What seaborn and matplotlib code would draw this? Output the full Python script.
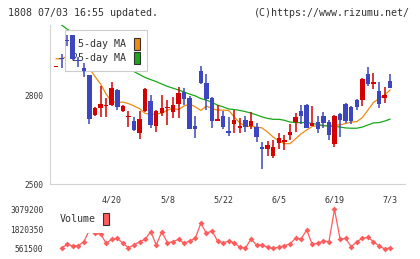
import numpy as np
import pandas as pd
import seaborn as sns
import matplotlib.pyplot as plt
from matplotlib.patches import Patch

# daily candles (61 trading days up to 7/3)
opens = [2895, 2925, 2987, 3001, 2918, 2890, 2867, 2733, 2757, 2762,
         2765, 2817, 2746, 2725, 2712, 2672, 2746, 2780, 2697, 2740,
         2756, 2744, 2770, 2811, 2791, 2695, 2881, 2842, 2790, 2713,
         2730, 2679, 2703, 2690, 2716, 2695, 2693, 2626, 2618, 2595,
         2639, 2643, 2665, 2708, 2746, 2766, 2697, 2708, 2729, 2708,
         2635, 2736, 2770, 2759, 2783, 2783, 2871, 2837, 2815, 2790,
         2847]
highs = [2899, 2937, 3002, 3003, 2929, 2907, 2869, 2758, 2830, 2791,
         2843, 2820, 2767, 2745, 2727, 2745, 2822, 2800, 2750, 2800,
         2783, 2793, 2828, 2825, 2795, 2730, 2899, 2870, 2793, 2768,
         2745, 2727, 2750, 2724, 2730, 2742, 2707, 2641, 2646, 2648,
         2673, 2665, 2702, 2741, 2765, 2770, 2763, 2729, 2742, 2716,
         2731, 2740, 2774, 2762, 2786, 2858, 2895, 2875, 2845, 2828,
         2871]
lows = [2895, 2892, 2965, 2918, 2894, 2862, 2703, 2730, 2725, 2727,
        2762, 2748, 2744, 2692, 2678, 2651, 2744, 2688, 2676, 2728,
        2699, 2722, 2722, 2766, 2684, 2656, 2836, 2749, 2688, 2711,
        2684, 2663, 2673, 2673, 2676, 2684, 2643, 2552, 2596, 2588,
        2617, 2615, 2648, 2676, 2701, 2688, 2694, 2671, 2690, 2648,
        2626, 2659, 2707, 2701, 2751, 2764, 2830, 2820, 2757, 2774,
        2823]
closes = [2899, 2921, 2983, 2920, 2914, 2882, 2720, 2756, 2769, 2767,
          2822, 2761, 2764, 2729, 2682, 2719, 2820, 2700, 2746, 2757,
          2761, 2768, 2806, 2787, 2686, 2684, 2842, 2787, 2713, 2719,
          2693, 2673, 2716, 2695, 2693, 2712, 2659, 2617, 2631, 2626,
          2656, 2650, 2676, 2727, 2729, 2690, 2707, 2686, 2705, 2665,
          2729, 2716, 2714, 2713, 2761, 2854, 2837, 2845, 2770, 2800,
          2825]
ma5 = [2922, 2922, 2930, 2935, 2930, 2915, 2890, 2862, 2837, 2803,
       2778, 2775, 2776, 2771, 2763, 2754, 2738, 2735, 2736, 2739,
       2749, 2755, 2751, 2763, 2770, 2760, 2748, 2763, 2754, 2749,
       2749, 2748, 2726, 2706, 2695, 2694, 2692, 2689, 2675, 2658,
       2645, 2636, 2636, 2652, 2669, 2682, 2694, 2697, 2697, 2697,
       2699, 2699, 2704, 2709, 2710, 2724, 2749, 2775, 2788, 2800,
       2817]
ma25 = [3047, 3036, 3022, 3011, 2999, 2987, 2975, 2964, 2952, 2938,
        2926, 2915, 2903, 2891, 2879, 2869, 2859, 2852, 2845, 2837,
        2829, 2823, 2817, 2810, 2803, 2797, 2788, 2783, 2775, 2766,
        2760, 2753, 2751, 2748, 2744, 2739, 2733, 2726, 2721, 2718,
        2718, 2715, 2709, 2707, 2707, 2707, 2704, 2701, 2697, 2695,
        2694, 2692, 2689, 2688, 2688, 2692, 2699, 2706, 2707, 2712,
        2719]
volume = [np.nan, 606000, 859000, 752000, 771000, 1024000, 1766000, 1545000, 1513000, 923000,
          1177000, 1240000, 923000, 644000, 815000, 1024000, 1177000, 1659000, 815000, 1659000,
          961000, 1024000, 1177000, 923000, 1069000, 1240000, 2191000, 1557000, 1722000, 1069000,
          961000, 1056000, 961000, 669000, 606000, 1196000, 815000, 815000, 669000, 606000,
          669000, 771000, 879000, 1240000, 1196000, 1766000, 859000, 923000, 1069000, 1024000,
          3079200, 1196000, 1240000, 707000, 1024000, 1240000, 1303000, 1024000, 752000, 561500,
          644000]
date_pos = [10, 20, 30, 40, 50, 60]
date_labels = ['4/20', '5/8', '5/22', '6/5', '6/19', '7/3']
price_ticks = [2500, 2800]
vol_ticks = [561500, 1820350, 3079200]
vol_labels = ['561500', '1820350', '3079200']

df = pd.DataFrame({'open': opens, 'high': highs, 'low': lows, 'close': closes,
                   'ma5': ma5, 'ma25': ma25, 'volume': volume})
df['idx'] = np.arange(len(df))

sns.set_style('white')
plt.rcParams['font.family'] = ['DejaVu Sans Mono']

UP, DOWN = '#d40000', '#3c46c0'
ORANGE, GREEN, VOLC = '#f08a10', '#18a818', '#ff5c5c'
GRID = '#d4d4d4'
TXT = '#333333'

W, H = 420, 259
fig = plt.figure(figsize=(W / 100, H / 100), dpi=100)


def box(l, t, r, b):
    return [l / W, 1 - b / H, (r - l) / W, (b - t) / H]


ax = fig.add_axes(box(50, 25, 405, 184))
axv = fig.add_axes(box(50, 203, 405, 255))
XLIM = (-1.08, 62.66)

# price panel
sns.lineplot(data=df, x='idx', y='ma5', ax=ax, color=ORANGE, lw=0.9, zorder=3)
sns.lineplot(data=df, x='idx', y='ma25', ax=ax, color=GREEN, lw=0.9, zorder=3)
col = np.where(df['close'] >= df['open'], UP, DOWN)
ax.vlines(df['idx'], df['low'], df['high'], colors=col, lw=1.1, zorder=6)
ax.bar(df['idx'], df['close'] - df['open'], bottom=df['open'], width=0.8,
       color=col, linewidth=0, zorder=7)

ax.set_xlim(*XLIM)
ax.set_ylim(2500, 3036)
ax.set_yticks(price_ticks)
ax.set_xticks(date_pos, date_labels)
ax.set_xticks(np.linspace(XLIM[0], XLIM[1], 12), minor=True)
ax.tick_params(axis='x', which='major', length=0, pad=8, labelsize=6, labelcolor=TXT)
ax.tick_params(axis='x', which='minor', length=6, direction='inout', color=GRID, width=0.8)
ax.tick_params(axis='y', length=6.5, direction='inout', color=GRID, width=0.8,
               labelsize=5.7, pad=1.5, labelcolor=TXT)
for s in ['top', 'right']:
    ax.spines[s].set_visible(False)
for s in ['left', 'bottom']:
    ax.spines[s].set_color(GRID)
    ax.spines[s].set_linewidth(0.8)
ax.set_xlabel('')
ax.set_ylabel('')

handles = [Patch(facecolor=ORANGE, edgecolor='#333333', lw=0.8, label='5-day MA'),
           Patch(facecolor=GREEN, edgecolor='#333333', lw=0.8, label='25-day MA')]
leg = ax.legend(handles=handles, loc='upper left', bbox_to_anchor=(65 / W, 1 - 30 / H),
                bbox_transform=fig.transFigure, markerfirst=False, handlelength=0.6,
                handleheight=1.5, handletextpad=0.7, labelspacing=0.2, borderpad=0.75,
                borderaxespad=0, fontsize=7.2, frameon=True, fancybox=False,
                framealpha=1, edgecolor='#cccccc')
leg.set_zorder(5)
leg.get_frame().set_linewidth(0.8)
for t in leg.get_texts():
    t.set_color(TXT)

# volume panel
sns.lineplot(data=df, x='idx', y='volume', ax=axv, color=VOLC, lw=0.9,
             marker='D', markersize=3, markeredgewidth=0)
axv.set_xlim(*XLIM)
axv.set_ylim(180000, 3480000)
axv.set_xticks([])
axv.set_yticks(vol_ticks, vol_labels)
axv.tick_params(axis='y', length=0, pad=4.8, labelsize=5.7, labelcolor=TXT)
for s in axv.spines.values():
    s.set_visible(False)
axv.set_xlabel('')
axv.set_ylabel('')
vleg = axv.legend(handles=[Patch(facecolor=VOLC, edgecolor='#333333', lw=0.8, label='Volume')],
                  loc='upper left', bbox_to_anchor=(52 / W, 1 - 205.3 / H),
                  bbox_transform=fig.transFigure, markerfirst=False, handlelength=0.6,
                  handleheight=1.5, handletextpad=0.7, borderpad=0.75, borderaxespad=0,
                  fontsize=7.2, frameon=True, fancybox=False, framealpha=1,
                  edgecolor='none', facecolor='white')
vleg.set_zorder(5)
for t in vleg.get_texts():
    t.set_color(TXT)

fig.text(8 / W, 1 - 12.5 / H, '1808 07/03 16:55 updated.', fontsize=7.2, va='center', color=TXT)
fig.text(410 / W, 1 - 12.5 / H, '(C)https://www.rizumu.net/', fontsize=7.2, va='center',
         ha='right', color=TXT)

fig.savefig('out.png', dpi=100)
